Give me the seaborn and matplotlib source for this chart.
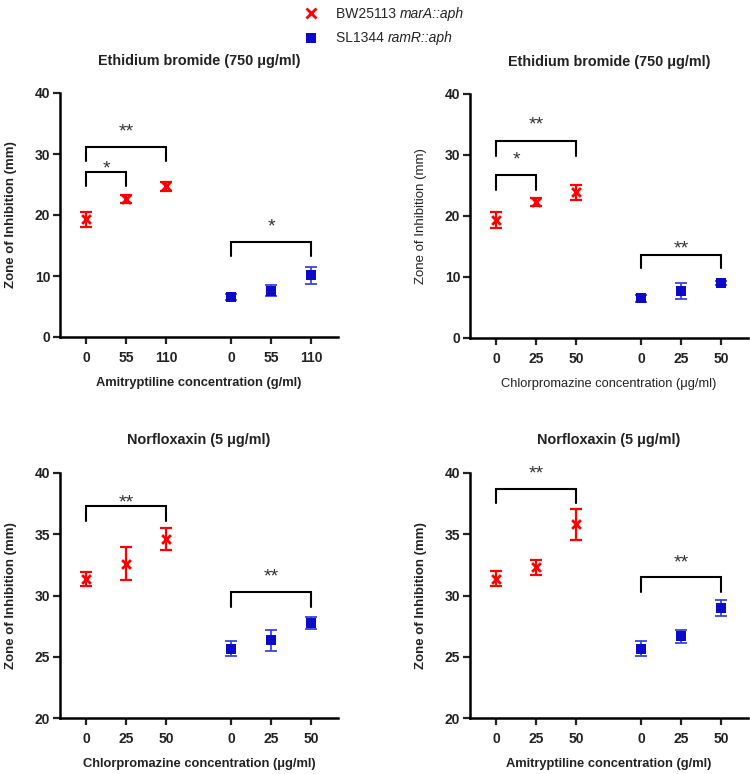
import matplotlib
matplotlib.use("Agg")
import matplotlib.pyplot as plt
from matplotlib.lines import Line2D
import seaborn as sns
import pandas as pd

sns.set_theme(style="ticks")
plt.rcParams["font.family"] = ["Liberation Sans", "DejaVu Sans"]

# ---------------- data ----------------
strains = ["BW25113", "SL1344"]
strain_suffix = ["marA::aph", "ramR::aph"]
titles = ["Ethidium bromide (750 \u03bcg/ml)", "Ethidium bromide (750 \u03bcg/ml)",
          "Norfloxaxin (5 \u03bcg/ml)", "Norfloxaxin (5 \u03bcg/ml)"]
xlabels = ["Amitryptiline concentration (g/ml)", "Chlorpromazine concentration (\u03bcg/ml)",
           "Chlorpromazine concentration (\u03bcg/ml)", "Amitryptiline concentration (g/ml)"]
conc_labels = [["0", "55", "110"], ["0", "25", "50"], ["0", "25", "50"], ["0", "25", "50"]]
red_mean = [[19.3, 22.6, 24.7], [19.3, 22.3, 23.9], [31.35, 32.6, 34.6], [31.37, 32.3, 35.8]]
red_err = [[1.2, 0.6, 0.7], [1.3, 0.6, 1.2], [0.6, 1.35, 0.87], [0.6, 0.6, 1.28]]
blue_mean = [[6.5, 7.6, 10.1], [6.5, 7.7, 9.0], [25.66, 26.34, 27.76], [25.66, 26.67, 28.98]]
blue_err = [[0.5, 0.9, 1.4], [0.6, 1.3, 0.3], [0.6, 0.87, 0.5], [0.6, 0.55, 0.68]]
y_min = [0, 0, 20, 20]
y_max = [40, 40, 40, 40]
y_step = [10, 10, 5, 5]

# significance brackets: panel, from index, to index, top, leg bottom, label, label y
br_panel = [0, 0, 0, 1, 1, 1, 2, 2, 3, 3]
br_from = [0, 0, 3, 0, 0, 3, 0, 3, 0, 3]
br_to = [2, 1, 5, 2, 1, 5, 2, 5, 2, 5]
br_top = [31.2, 27.1, 15.6, 32.3, 26.7, 13.6, 37.3, 30.3, 38.7, 31.5]
br_leg = [28.8, 24.7, 13.3, 29.9, 24.3, 11.4, 36.1, 29.1, 37.55, 30.3]
br_text = ["**", "*", "*", "**", "*", "**", "**", "**", "**", "**"]
br_text_y = [34.2, 28.2, 18.6, 35.5, 29.8, 15.2, 37.9, 31.8, 40.2, 33.0]

RED = "#ff0000"
BLUE = "#0a0ac8"
BLUE_ERR = "#3a46dc"

positions = [0, 1, 2, 3.63, 4.63, 5.63]

W, H = 750, 774
fig = plt.figure(figsize=(W / 100, H / 100), dpi=100)

boxes = [
    (60, 93, 338, 337),
    (470, 94, 748, 338),
    (60, 473, 338, 718),
    (470, 473, 748, 718),
]
label_bold = [True, False, True, True]
STAR_FS = 14

for p in range(4):
    x0, ytop, x1, ybot = boxes[p]
    ax = fig.add_axes([x0 / W, 1 - ybot / H, (x1 - x0) / W, (ybot - ytop) / H])
    df = pd.DataFrame({
        "pos": positions,
        "zone": red_mean[p] + blue_mean[p],
        "err": red_err[p] + blue_err[p],
        "strain": [strains[0]] * 3 + [strains[1]] * 3,
    })
    red = df[df.strain == strains[0]]
    blue = df[df.strain == strains[1]]
    ax.errorbar(red.pos, red.zone, yerr=red.err, fmt="none", ecolor=RED,
                elinewidth=1.6, capsize=4, capthick=1.6, zorder=2)
    ax.errorbar(blue.pos, blue.zone, yerr=blue.err, fmt="none", ecolor=BLUE_ERR,
                elinewidth=1.3, capsize=4, capthick=1.3, zorder=2)
    sns.scatterplot(data=red, x="pos", y="zone", color=RED, marker="x", s=40,
                    linewidth=2.0, ax=ax, legend=False, zorder=3)
    sns.scatterplot(data=blue, x="pos", y="zone", color=BLUE, marker="s", s=55,
                    linewidth=0, ax=ax, legend=False, zorder=3)

    # brackets
    for i in range(len(br_panel)):
        if br_panel[i] != p:
            continue
        xa = positions[br_from[i]]
        xb = positions[br_to[i]]
        ax.plot([xa, xa, xb, xb], [br_leg[i], br_top[i], br_top[i], br_leg[i]],
                color="black", lw=1.5, solid_joinstyle="miter", clip_on=False, zorder=4)
        ax.annotate(br_text[i], xy=((xa + xb) / 2, br_text_y[i]),
                    xytext=(0, -6.0), textcoords="offset points",
                    ha="center", va="baseline", fontsize=STAR_FS, color="#333333",
                    annotation_clip=False)

    ax.set_xlim(-0.65, 6.3)
    ax.set_ylim(y_min[p], y_max[p])
    ax.set_xticks(positions)
    ax.set_xticklabels(conc_labels[p] * 2)
    yt = list(range(y_min[p], y_max[p] + 1, y_step[p]))
    ax.set_yticks(yt)
    ax.set_yticklabels([str(v) for v in yt])
    for lab in ax.get_xticklabels() + ax.get_yticklabels():
        lab.set_fontweight("bold")
        lab.set_fontsize(10)
        lab.set_color("#222222")
    ax.tick_params(axis="x", length=5, width=1.6, pad=5, colors="#222222")
    ax.tick_params(axis="y", length=5, width=1.6, pad=2, colors="#222222")
    for side in ["top", "right"]:
        ax.spines[side].set_visible(False)
    for side in ["left", "bottom"]:
        ax.spines[side].set_linewidth(1.8)
        ax.spines[side].set_color("black")
    wt = "bold" if label_bold[p] else "normal"
    ax.set_xlabel(xlabels[p], fontsize=9.3, fontweight=wt, labelpad=9, color="#222222")
    ax.set_ylabel("Zone of Inhibition (mm)", fontsize=9.5, fontweight=wt, labelpad=13,
                  color="#222222")
    ax.set_title(titles[p], fontsize=10.4, fontweight="bold", pad=20 if p < 2 else 21,
                 color="#222222")

# legend
handles = [
    Line2D([], [], color=RED, marker="x", linestyle="none", markersize=6.5, mew=2.0),
    Line2D([], [], color=BLUE, marker="s", linestyle="none", markersize=6.5, mew=0),
]
leg = fig.legend(handles, [s + " " for s in strains], loc="upper left",
                 bbox_to_anchor=(304 / W, 1 - 7 / H), frameon=False, borderpad=0,
                 borderaxespad=0, handlelength=1.0, handletextpad=1.3,
                 labelspacing=0.75, fontsize=10)
fig.canvas.draw()
renderer = fig.canvas.get_renderer()
for t, suf in zip(leg.get_texts(), strain_suffix):
    bb = t.get_window_extent(renderer)
    fig.text(bb.x1 / W, bb.y0 / H + 0.0, suf, fontsize=10, fontstyle="italic",
             ha="left", va="bottom", color="#222222")

fig.savefig("out.png", dpi=100)
